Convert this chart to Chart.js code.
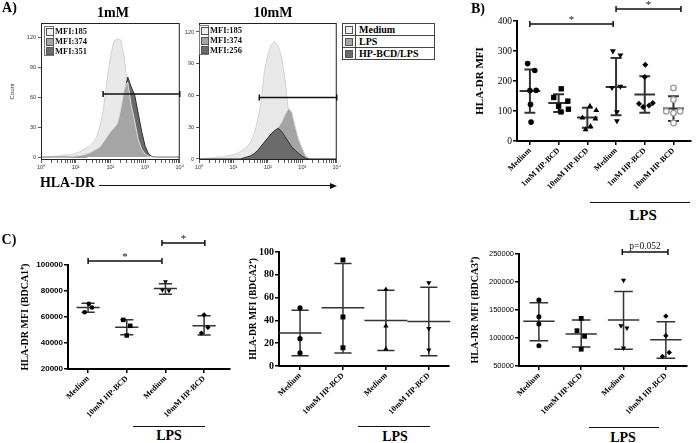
<!DOCTYPE html>
<html>
<head>
<meta charset="utf-8">
<script src="https://cdn.jsdelivr.net/npm/chart.js@4.4.1/dist/chart.umd.min.js"></script>
<style>
  body { margin: 0; width: 696px; height: 443px; position: relative; overflow: hidden; background: #fff; }
  canvas { position: absolute; }
  .lbl { position: absolute; transform: translate(-50%, -50%); font-family: 'Liberation Serif', serif; font-weight: bold; line-height: 1; white-space: nowrap; color: #000; }
  .rule { position: absolute; height: 0; border-top: 1.5px solid #111; }
  .mfi { position: absolute; font-family: 'Liberation Serif', serif; font-weight: bold; font-size: 8.5px; line-height: 10px; color: #111; }
  .mfi .col { position: absolute; left: 0; top: 0; width: 10px; height: 30px; border: 1px solid #777; box-sizing: border-box; background: #fff; }
  .mfi .sw { position: absolute; left: 1px; width: 6px; height: 6px; border: 1px solid #555; }
  .mfi .tx { position: absolute; left: 11px; }
  #legend { position: absolute; left: 342px; top: 23px; border-collapse: collapse; font-family: 'Liberation Serif', serif; font-weight: bold; font-size: 10px; }
  #legend td { border: 1px solid #444; height: 11px; padding: 0 3px; line-height: 11px; }
  #legend td.s { width: 6px; padding: 0 2px; }
  #legend span { display: block; width: 6px; height: 6px; border: 1px solid #555; }
</style>
</head>
<body>
<canvas id="h1" style="left:0;top:0" width="185" height="172"></canvas>
<canvas id="h2" style="left:170px;top:0" width="172" height="172"></canvas>
<canvas id="b" style="left:440px;top:0" width="256" height="200"></canvas>
<canvas id="c1" style="left:0;top:225px" width="235" height="195"></canvas>
<canvas id="c2" style="left:240px;top:225px" width="214" height="195"></canvas>
<canvas id="c3" style="left:460px;top:225px" width="232" height="195"></canvas>
<table id="legend"></table>
<script>
// ---------- A) histograms: bin centres in log10 decades, counts per bin ----------
const histLog = [0,0.1,0.2,0.3,0.4,0.5,0.6,0.7,0.8,0.9,1,1.1,1.2,1.3,1.4,1.5,1.6,1.7,1.8,1.9,2,2.1,2.2,2.3,2.4,2.5,2.6,2.7,2.8,2.9,3,3.1,3.2,3.3,3.4,3.5,3.6,3.7,3.8,3.9,4];
const med1mM = [0,0,0,0.5,1,1,1.5,2,2,2.5, 4,5,7,9,11,14,20,30,48,75, 100,116,118,117,100,68,30,10,4,2, 1,0.5,0,0,0,0,0,0,0,0, 0];
const lps1mM = [0,0,0,0,0,0,0,0,0,0.5, 1,1.5,2,3,4,6,8,10,15,20, 25,29,33,48,68,75,52,36,18,8, 3,1,0,0,0,0,0,0,0,0, 0];
const hp1mM = [0,0,0,0,0,0,0,0,0,0, 0,0,0,0,1,3,5,8,12,18, 24,28,32,42,62,80,70,62,44,26, 11,3,0.5,0,0,0,0,0,0,0, 0];
const med10mM = [0,0,0.5,1,1,1.5,2,2,3,3.5, 4,5,7,9,12,16,24,36,52,83, 99,108,111,107,96,75,44,18,7,3, 1,0.5,0,0,0,0,0,0,0,0, 0];
const lps10mM = [0,0,0,0,0,0,0,0,0,0, 0,0,0,1,2,3,5,7,10,14, 18,22,26,30,35,42,48,44,30,18, 10,3,0.5,0,0,0,0,0,0,0, 0];
const hp10mM = [0,0,0,0,0,0,0,0,0,0, 0,0,0,1,2,3,5,8,12,16, 20,24,27,29,26,21,16,11,8,5, 2.5,0.5,0,0,0,0,0,0,0,0, 0];
const histYTicks = [0, 30, 60, 90, 120];
const decadeLabels = ['10⁰', '10¹', '10²', '10³', '10⁴'];
const mfi1mM = ['MFI:185', 'MFI:374', 'MFI:351'];
const mfi10mM = ['MFI:185', 'MFI:374', 'MFI:256'];
const gate1mM = [1.79, 4, 63];
const gate10mM = [1.75, 4, 58];
const legendNames = ['Medium', 'LPS', 'HP-BCD/LPS'];

// ---------- B) HLA-DR MFI ----------
const bLabels = ['Medium', '1mM HP-BCD', '10mM HP-BCD', 'Medium', '1mM HP-BCD', '10mM HP-BCD'];
const bMedium = [258, 235, 169, 168, 122, 63];
const b1mM = [174, 145, 133, 116, 106, 97];
const b10mM = [116, 102, 77, 74, 49, 38];
const bLpsMedium = [300, 286, 178, 182, 97, 67];
const bLps1mM = [254, 213, 124, 113, 118, 127];
const bLps10mM = [177, 138, 99, 99, 93, 60];
const bMean = [167, 127, 78, 180, 155, 108];
const bSdHigh = [238, 156, 111, 277, 216, 149];
const bSdLow = [94, 97, 44, 86, 94, 67];
const bTicks = [0, 100, 200, 300, 400];

// ---------- C) subsets ----------
const cLabels = ['Medium', '10mM HP-BCD', 'Medium', '10mM HP-BCD'];
const c1Medium = [70100, 67300, 63700];
const c1Hp = [57800, 53200, 45800];
const c1LpsMedium = [87200, 80800, 80300];
const c1LpsHp = [61700, 52000, 47600];
const c1Mean = [67300, 52200, 81900, 53200];
const c1SdHigh = [70600, 57800, 85500, 60900];
const c1SdLow = [63700, 46300, 77500, 46100];
const c1Ticks = [20000, 40000, 60000, 80000, 100000];

const c2Medium = [51, 24, 11.5];
const c2Hp = [93, 43, 16];
const c2LpsMedium = [67, 35, 15];
const c2LpsHp = [73, 33, 14];
const c2Mean = [29, 51, 40, 39];
const c2SdHigh = [49, 90, 66.5, 69];
const c2SdLow = [9, 11.5, 13.5, 9];
const c2Ticks = [0, 20, 40, 60, 80, 100];

const c3Medium = [168000, 138000, 125000, 86000];
const c3Hp = [135000, 113000, 103000, 80000];
const c3LpsMedium = [203000, 122000, 118000, 82000];
const c3LpsHp = [139000, 104000, 74000, 67000];
const c3Mean = [130000, 107000, 132000, 97000];
const c3SdHigh = [163000, 132000, 183000, 129000];
const c3SdLow = [95000, 84000, 80000, 64000];
const c3Ticks = [50000, 100000, 150000, 200000, 250000];

const SERIF = "'Liberation Serif', serif";
const SANS = "'Liberation Sans', Arial, sans-serif";

// ---------- plugins ----------
const framePlugin = {
  id: 'frame',
  afterDatasetsDraw(chart, args, opts) {
    const {ctx, chartArea: a, scales: {x, y}} = chart;
    ctx.save();
    ctx.strokeStyle = '#222';
    ctx.lineWidth = 1;
    ctx.strokeRect(a.left + 0.5, a.top + 0.5, a.right - a.left - 1, a.bottom - a.top - 1);
    const g = opts.gate;
    const x1 = x.getPixelForValue(Math.pow(10, g[0]));
    const x2 = x.getPixelForValue(Math.pow(10, g[1]));
    const yy = y.getPixelForValue(g[2]);
    ctx.lineWidth = 1.5;
    ctx.strokeStyle = '#111';
    ctx.beginPath();
    ctx.moveTo(x1, yy); ctx.lineTo(x2, yy);
    ctx.moveTo(x1, yy - 3); ctx.lineTo(x1, yy + 3);
    ctx.moveTo(x2, yy - 3); ctx.lineTo(x2, yy + 3);
    ctx.stroke();
    ctx.restore();
  }
};

const errorBarPlugin = {
  id: 'errorBars',
  beforeDatasetsDraw(chart, args, o) {
    const {ctx, scales: {x, y}} = chart;
    ctx.save();
    ctx.strokeStyle = o.color;
    ctx.lineWidth = o.width;
    o.mean.forEach((m, i) => {
      const cx = x.getPixelForValue(i);
      ctx.beginPath();
      ctx.moveTo(x.getPixelForValue(i - o.meanHalf), y.getPixelForValue(m));
      ctx.lineTo(x.getPixelForValue(i + o.meanHalf), y.getPixelForValue(m));
      ctx.moveTo(cx, y.getPixelForValue(o.hi[i]));
      ctx.lineTo(cx, y.getPixelForValue(o.lo[i]));
      [o.hi[i], o.lo[i]].forEach(v => {
        ctx.moveTo(x.getPixelForValue(i - o.capHalf), y.getPixelForValue(v));
        ctx.lineTo(x.getPixelForValue(i + o.capHalf), y.getPixelForValue(v));
      });
      ctx.stroke();
    });
    ctx.restore();
  }
};

const bracketPlugin = {
  id: 'brackets',
  afterDraw(chart, args, o) {
    const {ctx, scales: {x, y}} = chart;
    ctx.save();
    ctx.strokeStyle = '#111';
    ctx.fillStyle = '#111';
    ctx.lineWidth = 1.5;
    ctx.textAlign = 'center';
    ctx.textBaseline = 'alphabetic';
    (o.items || []).forEach(b => {
      const x1 = x.getPixelForValue(b.from), x2 = x.getPixelForValue(b.to), yy = y.getPixelForValue(b.y);
      ctx.beginPath();
      ctx.moveTo(x1, yy); ctx.lineTo(x2, yy);
      ctx.moveTo(x1, yy - 3); ctx.lineTo(x1, yy + 3);
      ctx.moveTo(x2, yy - 3); ctx.lineTo(x2, yy + 3);
      ctx.stroke();
      ctx.font = b.font;
      ctx.fillText(b.text, (x1 + x2) / 2, yy + b.dy);
    });
    ctx.restore();
  }
};

// ---------- histogram builder ----------
function histChart(id, o) {
  const fills = ['#e9e9e9', '#a5a5a5', '#6b6b6b'];
  const lines = ['#d2d2d2', '#dcdcdc', '#303030'];
  const series = [o.med, o.lps, o.hp];
  const datasets = series.map((s, i) => ({
    data: histLog.map((l, j) => ({x: Math.pow(10, l), y: s[j]})),
    fill: 'origin',
    backgroundColor: fills[i],
    borderColor: lines[i],
    borderWidth: 1,
    pointRadius: 0,
    tension: 0,
    order: o.order[i]
  }));
  const minor = [];
  for (let d = 0; d < 4; d++) for (let m = 1; m < 10; m++) minor.push(m * Math.pow(10, d));
  minor.push(10000);
  new Chart(document.getElementById(id), {
    type: 'line',
    data: {datasets},
    options: {
      responsive: false, animation: false, devicePixelRatio: 1, events: [],
      layout: {padding: {left: 0, top: 23, right: 5, bottom: 0}},
      plugins: {legend: {display: false}, tooltip: {enabled: false}, frame: {gate: o.gate}},
      scales: {
        x: {
          type: 'logarithmic', min: 1, max: 10000,
          afterFit: s => { s.height = 12; },
          afterBuildTicks: s => { s.ticks = minor.map(v => ({value: v})); },
          ticks: {
            autoSkip: false, maxRotation: 0, padding: 1, color: '#333',
            font: {family: SANS, size: 5.5},
            callback: v => { const k = [1, 10, 100, 1000, 10000].indexOf(v); return k >= 0 ? decadeLabels[k] : ''; }
          },
          grid: {display: true, drawOnChartArea: false, tickLength: 3, color: '#333', lineWidth: 0.8},
          border: {display: false}
        },
        y: {
          min: o.yMin, max: o.yMax,
          afterFit: s => { s.width = o.yw; },
          afterBuildTicks: s => { s.ticks = histYTicks.map(v => ({value: v})); },
          ticks: {padding: 2, color: '#333', font: {family: SANS, size: 5.5}},
          grid: {display: true, drawOnChartArea: false, tickLength: 3, color: '#333', lineWidth: 0.8},
          border: {display: false},
          title: {display: !!o.yTitle, text: o.yTitle || '', color: '#333', font: {family: SANS, size: 6}, padding: {top: 8.4, bottom: 0}}
        }
      }
    },
    plugins: [framePlugin]
  });
}

histChart('h1', {med: med1mM, lps: lps1mM, hp: hp1mM, order: [3, 1, 2], gate: gate1mM, yMin: -3, yMax: 134, yw: 41, yTitle: 'Count'});
histChart('h2', {med: med10mM, lps: lps10mM, hp: hp10mM, order: [3, 2, 1], gate: gate10mM, yMin: -0.95, yMax: 128.5, yw: 29});

// ---------- dot plot builder ----------
function dotChart(id, o) {
  const datasets = o.groups.map((vals, i) => ({
    type: 'scatter',
    data: vals.map((v, j) => ({x: i + o.jitter[i][j], y: v})),
    pointStyle: o.styles[i][0],
    rotation: o.styles[i][1],
    pointRadius: o.styles[i][2],
    backgroundColor: o.styles[i][3] || '#000',
    borderColor: o.styles[i][4] || '#000',
    borderWidth: o.styles[i][5] || 0,
    clip: false
  }));
  new Chart(document.getElementById(id), {
    type: 'scatter',
    data: {datasets},
    options: {
      responsive: false, animation: false, devicePixelRatio: 1, events: [],
      layout: {padding: {left: 0, top: o.pt, right: o.pr, bottom: 0}},
      plugins: {
        legend: {display: false}, tooltip: {enabled: false},
        errorBars: {mean: o.mean, hi: o.hi, lo: o.lo, meanHalf: o.meanHalf, capHalf: o.capHalf, color: '#333', width: o.barWidth},
        brackets: {items: o.brackets}
      },
      scales: {
        x: {
          type: 'linear', min: o.xMin, max: o.xMax,
          afterFit: s => { s.height = o.xh; },
          afterBuildTicks: s => { s.ticks = o.labels.map((_, i) => ({value: i})); },
          ticks: {
            autoSkip: false, minRotation: 45, maxRotation: 45, padding: 1, color: '#000',
            font: {family: SERIF, size: 8, weight: 'bold'},
            callback: (v, i) => o.labels[i]
          },
          grid: {display: true, drawOnChartArea: false, tickLength: 4, color: '#000', lineWidth: 1.5},
          border: {display: true, color: '#000', width: 2}
        },
        y: {
          min: o.yMin, max: o.yMax,
          afterFit: s => { s.width = o.yw; },
          afterBuildTicks: s => { s.ticks = o.yTicks.map(v => ({value: v})); },
          ticks: {padding: 1, color: '#000', font: o.tickFont, callback: v => String(v)},
          grid: {display: true, drawOnChartArea: false, tickLength: 4, color: '#000', lineWidth: 1.5},
          border: {display: true, color: '#000', width: 2},
          title: {display: true, text: o.yTitle, color: '#000', font: {family: SERIF, size: o.titleSize, weight: 'bold'}, padding: {top: o.titlePad, bottom: 0}}
        }
      }
    },
    plugins: [errorBarPlugin, bracketPlugin]
  });
}

const starFont = '11px ' + SERIF;

dotChart('b', {
  labels: bLabels,
  groups: [bMedium, b1mM, b10mM, bLpsMedium, bLps1mM, bLps10mM],
  jitter: [[-0.08, 0.17, 0.22, 0, 0.02, 0.04], [0.09, -0.17, 0.32, 0, 0.34, 0.08], [0.09, 0.31, -0.17, 0.28, 0.11, -0.06],
           [-0.11, 0.15, -0.14, 0.15, 0.03, 0.03], [0.02, 0, -0.2, -0.06, 0.15, 0.28], [0, 0, -0.25, 0.23, 0, 0]],
  styles: [['circle', 0, 2.8], ['rect', 0, 3.8], ['triangle', 0, 3.4], ['triangle', 180, 3.4], ['rectRot', 0, 3], ['circle', 0, 2.8, '#fff', '#9a9a9a', 1.3]],
  mean: bMean, hi: bSdHigh, lo: bSdLow, meanHalf: 0.36, capHalf: 0.19, barWidth: 2,
  xMin: -0.45, xMax: 5.6, yMin: 0, yMax: 400, yTicks: bTicks,
  pt: 21, pr: 0, yw: 77, xh: 59,
  tickFont: {family: SERIF, size: 9.5},
  yTitle: 'HLA-DR MFI', titleSize: 11, titlePad: 33.4,
  brackets: [{from: 0, to: 2.9, y: 390, text: '*', font: starFont, dy: -1}, {from: 3.0, to: 5.26, y: 440, text: '*', font: starFont, dy: -1}]
});

dotChart('c1', {
  labels: cLabels,
  groups: [c1Medium, c1Hp, c1LpsMedium, c1LpsHp],
  jitter: [[0.02, 0.1, -0.09], [-0.09, 0.09, 0], [0, -0.08, 0.09], [0, 0.1, -0.07]],
  styles: [['circle', 0, 2.3], ['rect', 0, 3.2], ['triangle', 180, 2.8], ['rectRot', 0, 2.6]],
  mean: c1Mean, hi: c1SdHigh, lo: c1SdLow, meanHalf: 0.3, capHalf: 0.17, barWidth: 1.5,
  xMin: -0.52, xMax: 3.67, yMin: 20000, yMax: 100000, yTicks: c1Ticks,
  pt: 40, pr: 5, yw: 68, xh: 51,
  tickFont: {family: SANS, size: 8, weight: 'bold'},
  yTitle: 'HLA-DR MFI (BDCA1⁺)', titleSize: 10, titlePad: 19,
  brackets: [{from: 0, to: 1.91, y: 103000, text: '*', font: starFont, dy: -1}, {from: 1.91, to: 3.02, y: 117000, text: '*', font: starFont, dy: -1}]
});

dotChart('c2', {
  labels: cLabels,
  groups: [c2Medium, c2Hp, c2LpsMedium, c2LpsHp],
  jitter: [[0, 0, 0], [0, 0, 0], [0, 0, 0], [0, 0, 0]],
  styles: [['circle', 0, 2.6], ['rect', 0, 3.5], ['triangle', 0, 3], ['triangle', 180, 3]],
  mean: c2Mean, hi: c2SdHigh, lo: c2SdLow, meanHalf: 0.5, capHalf: 0.2, barWidth: 1.5,
  xMin: -0.49, xMax: 3.47, yMin: 0, yMax: 100, yTicks: c2Ticks,
  pt: 27, pr: 5, yw: 39, xh: 54,
  tickFont: {family: SERIF, size: 10, weight: 'bold'},
  yTitle: 'HLA-DR MFI (BDCA2⁺)', titleSize: 9.5, titlePad: 8.3,
  brackets: []
});

dotChart('c3', {
  labels: cLabels,
  groups: [c3Medium, c3Hp, c3LpsMedium, c3LpsHp],
  jitter: [[0, 0, 0, 0], [0, -0.1, 0.08, 0], [0, -0.06, 0.08, 0], [0, 0, 0.08, -0.08]],
  styles: [['circle', 0, 2.5], ['rect', 0, 3.4], ['triangle', 180, 3], ['rectRot', 0, 2.7]],
  mean: c3Mean, hi: c3SdHigh, lo: c3SdLow, meanHalf: 0.37, capHalf: 0.22, barWidth: 1.5,
  xMin: -0.47, xMax: 3.5, yMin: 50000, yMax: 250000, yTicks: c3Ticks,
  pt: 29, pr: 5, yw: 59, xh: 54,
  tickFont: {family: SANS, size: 7.5},
  yTitle: 'HLA-DR MFI (BDCA3⁺)', titleSize: 10, titlePad: 9,
  brackets: [{from: 1.97, to: 3.05, y: 253600, text: 'p=0.052', font: '9.5px ' + SERIF, dy: -3}]
});

// ---------- text, rules, legends ----------
function textAt(txt, cx, cy, size) {
  const d = document.createElement('div');
  d.className = 'lbl';
  d.textContent = txt;
  d.style.left = cx + 'px';
  d.style.top = cy + 'px';
  d.style.fontSize = size + 'px';
  document.body.appendChild(d);
}
function rule(x1, x2, y) {
  const d = document.createElement('div');
  d.className = 'rule';
  d.style.left = x1 + 'px';
  d.style.top = y + 'px';
  d.style.width = (x2 - x1) + 'px';
  document.body.appendChild(d);
}
function mfiBox(left, top, texts) {
  const box = document.createElement('div');
  box.className = 'mfi';
  box.style.left = left + 'px';
  box.style.top = top + 'px';
  const col = document.createElement('div');
  col.className = 'col';
  box.appendChild(col);
  const swatches = ['#efefef', '#a5a5a5', '#6b6b6b'];
  texts.forEach((t, i) => {
    const s = document.createElement('div');
    s.className = 'sw';
    s.style.top = (1 + i * 9.5) + 'px';
    s.style.background = swatches[i];
    col.appendChild(s);
    const tx = document.createElement('div');
    tx.className = 'tx';
    tx.style.top = (i * 10) + 'px';
    tx.textContent = t;
    box.appendChild(tx);
  });
  document.body.appendChild(box);
}

textAt('A)', 9.5, 8, 14);
textAt('B)', 478, 9, 14);
textAt('C)', 9, 240, 14);
textAt('1mM', 113, 13, 14);
textAt('10mM', 273, 13, 14);
textAt('HLA-DR', 67.5, 183, 14);

rule(99, 331, 185);
const head = document.createElement('div');
head.style.cssText = 'position:absolute;left:330px;top:183px;width:0;height:0;border-left:7px solid #111;border-top:3px solid transparent;border-bottom:3px solid transparent;';
document.body.appendChild(head);

mfiBox(44, 26, mfi1mM);
mfiBox(199, 25, mfi10mM);

const legend = document.getElementById('legend');
const legendSw = ['#efefef', '#a5a5a5', '#6b6b6b'];
legendNames.forEach((n, i) => {
  const tr = document.createElement('tr');
  tr.innerHTML = '<td class="s"><span style="background:' + legendSw[i] + '"></span></td><td style="width:72px">' + n + '</td>';
  legend.appendChild(tr);
});

rule(590, 690, 202);
textAt('LPS', 643, 215, 15);
rule(133, 205, 426);
textAt('LPS', 169, 436, 14);
rule(358, 430, 426);
textAt('LPS', 395, 437, 14);
rule(589, 659, 427);
textAt('LPS', 623, 438, 14);
</script>
</body>
</html>
